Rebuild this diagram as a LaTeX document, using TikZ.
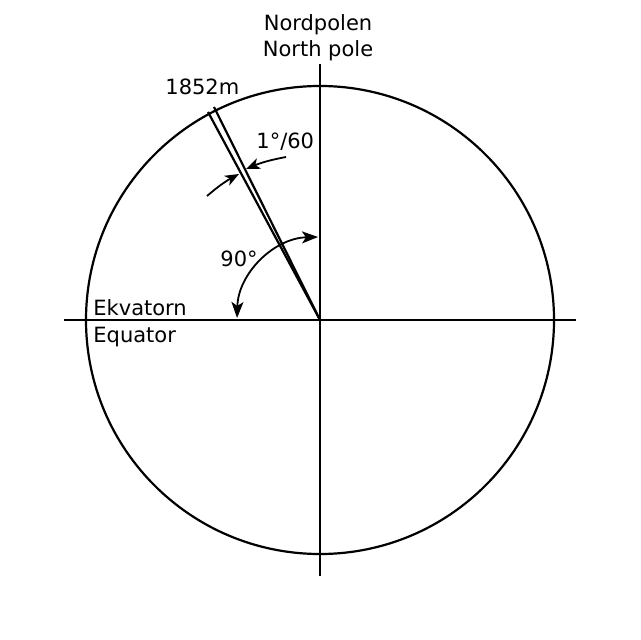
\documentclass[tikz,border=0pt]{standalone}
\usepackage{fontspec}
\setmainfont{DejaVu Sans}
\usetikzlibrary{arrows.meta}
\begin{document}
\begin{tikzpicture}[x=0.5pt,y=-0.5pt,
  ln/.style={line width=1.1pt,black},
  lbl/.style={inner sep=0pt,font=\fontsize{10.5}{13}\selectfont},
  arr/.style={line width=0.9pt,-{Stealth[length=7pt,width=5.5pt,inset=2pt]}}]
\useasboundingbox (0,0) rectangle (640,640);
\coordinate (O) at (320,320);
\coordinate (T) at (320,64);
\coordinate (B) at (320,576);
\coordinate (L) at (64,320);
\coordinate (R) at (576,320);
\draw[ln] (O) circle[radius=234];
\draw[ln] (T) -- (B);
\draw[ln] (L) -- (R);
\coordinate (W1) at (208,112);
\coordinate (W2) at (214,107);
\draw[ln] (O) -- (W1);
\draw[ln] (O) -- (W2);
% 1 degree arrows
\coordinate (A1s) at (286,157);
\coordinate (A1e) at (246,169);
\coordinate (A2s) at (207,196);
\coordinate (A2e) at (239,174);
\draw[arr] (A1s) to[bend right=6] (A1e);
\draw[arr] (A2s) to[bend left=6] (A2e);
% 90 degree arc
\coordinate (Q1) at (318,237);
\draw[arr,{Stealth[length=8pt,width=6pt,inset=2pt]}-{Stealth[length=8pt,width=6pt,inset=2pt]}] (Q1) arc[start angle=268.6,end angle=181.4,radius=83];
% labels
\node[lbl,anchor=base] (np1) at (318,31) {Nordpolen};
\node[lbl,anchor=base] (np2) at (318,57) {North pole};
\node[lbl,anchor=base west] (m) at (165,95) {1852m};
\node[lbl,anchor=base west] (deg) at (256,149) {1°/60};
\node[lbl,anchor=base west] (ninety) at (220,267) {90°};
\node[lbl,anchor=base west] (ek) at (93,315) {Ekvatorn};
\node[lbl,anchor=base west] (eq) at (93,342) {Equator};
\end{tikzpicture}
\end{document}
